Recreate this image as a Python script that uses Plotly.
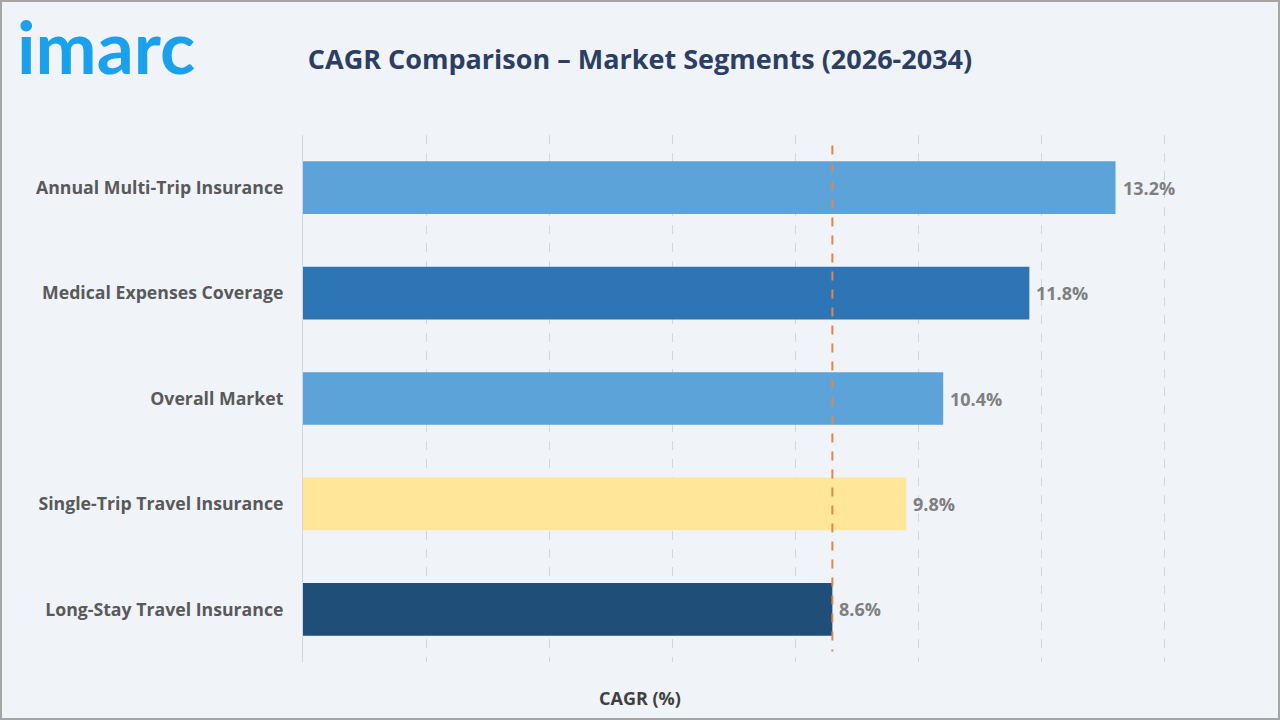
import plotly.graph_objects as go

categories = ["Annual Multi-Trip Insurance", "Medical Expenses Coverage", "Overall Market",
              "Single-Trip Travel Insurance", "Long-Stay Travel Insurance"]
cagr = [13.2, 11.8, 10.4, 9.8, 8.6]
bar_colors = ["#5ba3d9", "#2e75b6", "#5ba3d9", "#ffe699", "#1f4e79"]
reference_value = 8.6
grid_ticks = [0, 2, 4, 6, 8, 10, 12, 14]

FONT = "Open Sans"

fig = go.Figure()
fig.add_trace(go.Bar(
    y=categories, x=cagr, orientation="h",
    marker=dict(color=bar_colors, line=dict(width=0)),
    width=0.5,
    hoverinfo="skip",
))

for cat, v in zip(categories, cagr):
    fig.add_annotation(x=v, y=cat, xref="x", yref="y", text=f"<b>{v:.1f}%</b>",
                       showarrow=False, xanchor="left", yanchor="middle", xshift=5,
                       font=dict(family=FONT, size=18, color="#7f7f7f"))

fig.add_shape(type="line", xref="x", yref="y", x0=reference_value, x1=reference_value,
              y0=-0.4, y1=4.4, line=dict(color="#e0874a", width=2, dash="dash"), layer="above")

fig.add_shape(type="rect", xref="paper", yref="paper", x0=-303/863, x1=1 + 114/863,
              y0=-58/527, y1=1 + 135/527,
              line=dict(color="#a6a6a6", width=4), layer="above")

fig.update_layout(
    width=1280, height=720,
    margin=dict(l=303, r=114, t=135, b=58),
    paper_bgcolor="#f0f4f9", plot_bgcolor="#f0f4f9",
    showlegend=False,
    font=dict(family=FONT),
    title=dict(text="<b>CAGR Comparison – Market Segments (2026-2034)</b>",
               x=0.5, xref="container", xanchor="center", y=0.917, yref="container", yanchor="middle",
               font=dict(family=FONT, size=27, color="#2d3e63")),
    xaxis=dict(range=[0, 14.02], tickvals=grid_ticks, showticklabels=False,
               showgrid=True, gridcolor="#d3d6db", griddash="dash", gridwidth=1,
               zeroline=False, showline=False, fixedrange=True),
    yaxis=dict(autorange="reversed", showgrid=False, zeroline=False,
               showline=True, linecolor="#d3d6db", linewidth=1,
               ticks="", ticklabelstandoff=15,
               tickfont=dict(family=FONT, size=17.7, color="#595959", weight="bold")),
)

# x-axis title centred on the page
fig.add_annotation(xref="paper", yref="paper", x=(640 - 303) / 863, y=-(698 - 662) / 527,
                   xanchor="center", yanchor="middle", showarrow=False,
                   text="<b>CAGR (%)</b>", font=dict(family=FONT, size=18, color="#404040"))

# logo
fig.add_annotation(xref="paper", yref="paper", x=-(303 - 15) / 863, y=1 + (135 - 46) / 527,
                   xanchor="left", yanchor="middle", showarrow=False,
                   text="<b>imarc</b>", font=dict(family="Lato", size=73, color="#1ba1ec"))

fig.write_html("out.html")
